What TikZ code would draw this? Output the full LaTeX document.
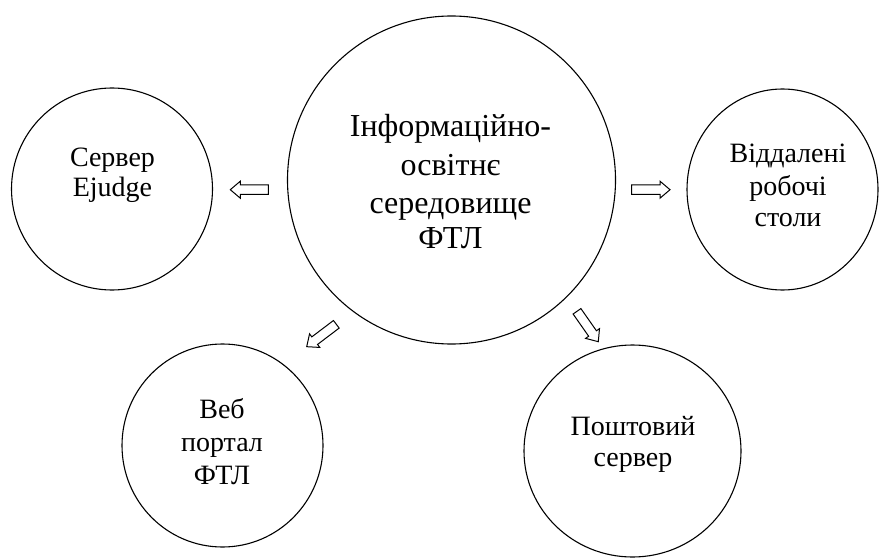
\documentclass[tikz,border=0pt]{standalone}
\usepackage{fontspec}
\setmainfont{Liberation Serif}
\usetikzlibrary{shapes.geometric}
\tikzset{
  bub/.style={ellipse, draw, line width=1.1pt, inner sep=0pt},
  txt/.style={anchor=base, inner sep=0pt, font=\fontsize{28}{32}\selectfont},
  bigtxt/.style={anchor=base, inner sep=0pt, font=\fontsize{32}{37}\selectfont},
  arrowline/.style={draw, line width=1pt, fill=white, line join=miter},
  pics/barrow/.style={code={\path[arrowline] (0,-4.75) -- ({#1-10},-4.75) -- ({#1-10},-8.5) -- (#1,0) -- ({#1-10},8.5) -- ({#1-10},4.75) -- (0,4.75) -- cycle;}}
}
\begin{document}
\begin{tikzpicture}[x=1pt,y=1pt]
\useasboundingbox (0,0) rectangle (880,558);
% circles
\node[bub, minimum width=328pt, minimum height=328pt] (C) at (451.5,378) {};
\node[bub, minimum width=201pt, minimum height=202pt] (L) at (112,369) {};
\node[bub, minimum width=191pt, minimum height=201pt] (R) at (782.5,368.5) {};
\node[bub, minimum width=201pt, minimum height=203pt] (BL) at (222.5,112.5) {};
\node[bub, minimum width=217pt, minimum height=212pt] (BR) at (632.5,107) {};
% texts
\node[bigtxt] (c1) at (450.5,421.3) {Інформаційно-};
\node[bigtxt] (c2) at (450.5,382) {освітнє};
\node[bigtxt] (c3) at (450.5,344.7) {середовище};
\node[bigtxt] (c4) at (450.5,309.7) {ФТЛ};
\node[txt] (l1) at (112.5,391.3) {Сервер};
\node[txt] (l2) at (112.5,361.3) {Ejudge};
\node[txt] (r1) at (788,395.3) {Віддалені};
\node[txt] (r2) at (788,363) {робочі};
\node[txt] (r3) at (788,331.3) {столи};
\node[txt] (bl1) at (222,139.7) {Веб};
\node[txt] (bl2) at (222,106.3) {портал};
\node[txt] (bl3) at (222,73.7) {ФТЛ};
\node[txt] (br1) at (633,123) {Поштовий};
\node[txt] (br2) at (633,91.3) {сервер};
% block arrows
\coordinate (aL) at (268.3,368.3);
\coordinate (aR) at (631.7,368.3);
\coordinate (aBL) at (336.3,233.7);
\coordinate (aBR) at (577,246.7);
\pic[rotate=180] at (aL) {barrow=38};
\pic at (aR) {barrow=38.3};
\pic[rotate=217.1] at (aBL) {barrow=37.1};
\pic[rotate=-55] at (aBR) {barrow=37.1};
\end{tikzpicture}
\end{document}
